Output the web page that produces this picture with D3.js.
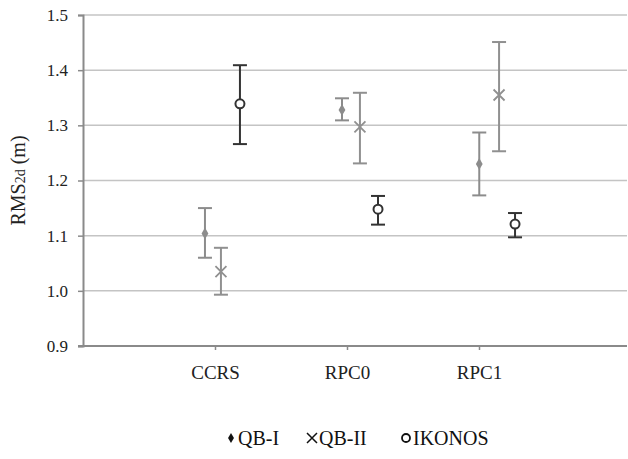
<!DOCTYPE html>
<html><head><meta charset="utf-8">
<script src="https://cdn.jsdelivr.net/npm/d3@7"></script>
<style>body{margin:0;background:#fff}svg{display:block}</style>
</head><body><svg id="c" width="628" height="459"></svg>
<script>
const categories = ["CCRS", "RPC0", "RPC1"];
const categoryX = [1, 2, 3];
const yTicks = [0.9, 1.0, 1.1, 1.2, 1.3, 1.4, 1.5];
const seriesNames = ["QB-I", "QB-II", "IKONOS"];
// x positions (in category units) as placed in the original
const qb1X = [0.924, 1.962, 3.002];
const qb2X = [1.045, 2.098, 3.152];
const ikX  = [1.189, 2.235, 3.273];
const qb1 = [1.104, 1.328, 1.230];
const qb1Lo = [1.060, 1.309, 1.173];
const qb1Hi = [1.150, 1.349, 1.287];
const qb2 = [1.035, 1.297, 1.355];
const qb2Lo = [0.993, 1.231, 1.253];
const qb2Hi = [1.078, 1.359, 1.451];
const ik = [1.339, 1.148, 1.121];
const ikLo = [1.266, 1.120, 1.097];
const ikHi = [1.409, 1.172, 1.141];

const FONT = '"Liberation Serif"';
const svg = d3.select("#c");
const L = 83, R = 611, T = 15, B = 346, gridR = 627;
const x = d3.scaleLinear().domain([0, 4]).range([L, R]);
const y = d3.scaleLinear().domain([0.9, 1.5]).range([B, T]);

// grid
svg.append("g").selectAll("line").data(yTicks.filter(d => d > 0.9)).join("line")
  .attr("x1", L).attr("x2", gridR).attr("y1", d => y(d)).attr("y2", d => y(d))
  .attr("stroke", "#c4c4c4").attr("stroke-width", 1.5);

// y axis
const yAxis = d3.axisLeft(y).tickValues(yTicks).tickFormat(d3.format(".1f")).tickSize(5).tickPadding(10);
const gy = svg.append("g").attr("transform", `translate(${L},0)`).call(yAxis);
gy.select(".domain").attr("stroke", "#8a8a8a").attr("stroke-width", 2);
gy.selectAll(".tick line").attr("stroke", "#8a8a8a").attr("stroke-width", 1.5);
gy.selectAll(".tick text").style("font-family", FONT).style("font-size", "17px").attr("fill", "#222");

// x axis
const xAxis = d3.axisBottom(x).tickValues(categoryX).tickFormat((d, i) => categories[i]).tickSize(4).tickPadding(16);
const gx = svg.append("g").attr("transform", `translate(0,${B})`).call(xAxis);
gx.select(".domain").remove();
gx.append("line").attr("x1", L - 5).attr("x2", gridR).attr("y1", 0).attr("y2", 0)
  .attr("stroke", "#8a8a8a").attr("stroke-width", 2);
gx.selectAll(".tick line").attr("stroke", "#8a8a8a").attr("stroke-width", 1.5);
gx.selectAll(".tick text").style("font-family", FONT).style("font-size", "19px").attr("fill", "#222");

// y title
const yt = svg.append("text").attr("transform", `translate(25,${(T + B) / 2}) rotate(-90)`)
  .attr("text-anchor", "middle").style("font-family", FONT).style("font-size", "20px").attr("fill", "#222");
yt.append("tspan").text("RMS");
yt.append("tspan").style("font-size", "14px").text("2d");
yt.append("tspan").text(" (m)");

const series = [
  {name: seriesNames[0], xs: qb1X, v: qb1, lo: qb1Lo, hi: qb1Hi, color: "#8c8c8c", sym: "diamond"},
  {name: seriesNames[1], xs: qb2X, v: qb2, lo: qb2Lo, hi: qb2Hi, color: "#909090", sym: "x"},
  {name: seriesNames[2], xs: ikX, v: ik, lo: ikLo, hi: ikHi, color: "#333333", sym: "circle"}
];

function drawMarker(g, sym, color) {
  if (sym === "diamond") {
    g.append("path").attr("d", d3.symbol(d3.symbolDiamond, 40)()).attr("fill", color);
  } else if (sym === "x") {
    const s = 5.5;
    g.append("path").attr("d", `M${-s},${-s}L${s},${s}M${-s},${s}L${s},${-s}`)
      .attr("stroke", color).attr("stroke-width", 1.8).attr("fill", "none");
  } else {
    g.append("circle").attr("r", 4.5).attr("fill", "#fff").attr("stroke", color).attr("stroke-width", 2);
  }
}

const cap = 7;
series.forEach(s => {
  const g = svg.append("g");
  s.v.forEach((v, i) => {
    const cx = x(s.xs[i]);
    const eg = g.append("g").attr("stroke", s.color).attr("stroke-width", 2);
    eg.append("line").attr("x1", cx).attr("x2", cx).attr("y1", y(s.lo[i])).attr("y2", y(s.hi[i]));
    eg.append("line").attr("x1", cx - cap).attr("x2", cx + cap).attr("y1", y(s.lo[i])).attr("y2", y(s.lo[i]));
    eg.append("line").attr("x1", cx - cap).attr("x2", cx + cap).attr("y1", y(s.hi[i])).attr("y2", y(s.hi[i]));
    const m = g.append("g").attr("transform", `translate(${cx},${y(v)})`);
    drawMarker(m, s.sym, s.color);
  });
});

// legend
const legendX = [231, 312, 406];
const lg = svg.append("g").attr("transform", "translate(0,438)");
series.forEach((s, i) => {
  const it = lg.append("g").attr("transform", `translate(${legendX[i]},0)`);
  const m = it.append("g");
  if (s.sym === "diamond") m.append("path").attr("d", d3.symbol(d3.symbolDiamond, 30)()).attr("fill", "#111");
  else if (s.sym === "x") m.append("path").attr("d", "M-5,-5L5,5M-5,5L5,-5").attr("stroke", "#111").attr("stroke-width", 1.5);
  else m.append("circle").attr("r", 4).attr("fill", "#fff").attr("stroke", "#111").attr("stroke-width", 1.8);
  it.append("text").attr("x", 7).attr("y", 7).style("font-family", FONT).style("font-size", "20px")
    .attr("fill", "#111").text(s.name);
});
</script></body></html>
